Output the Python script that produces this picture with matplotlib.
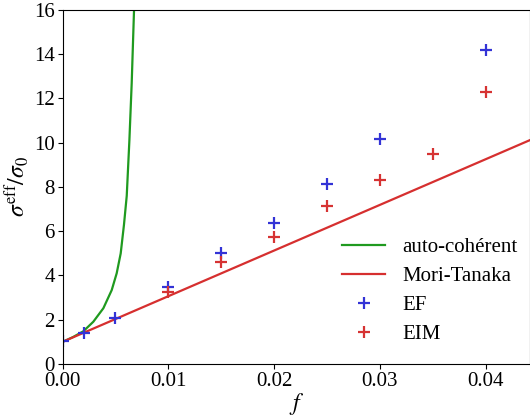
import numpy as np
from matplotlib import pyplot as plt

plt.rcParams['font.family'] = ['Liberation Serif', 'DejaVu Serif']
plt.rcParams['mathtext.fontset'] = 'stix'
plt.rcParams['font.size'] = 15

# auto-coherent estimate
f_ac = [0.0, 0.001, 0.00197, 0.00291, 0.00386, 0.00465, 0.00512, 0.0055,
        0.00581, 0.00607, 0.00632, 0.00654, 0.00669, 0.00676]
s_ac = [1.0, 1.22, 1.48, 1.91, 2.52, 3.34, 4.1, 5.0,
        6.3, 7.6, 10.1, 12.7, 14.95, 16.0]

# Mori-Tanaka (straight line)
f_mt = [0.0, 0.0442]
s_mt = [1.0, 10.12]

# finite elements
f_ef = [0.0, 0.002, 0.005, 0.01, 0.015, 0.02, 0.025, 0.03, 0.04]
s_ef = [1.02, 1.38, 2.09, 3.49, 5.02, 6.39, 8.12, 10.17, 14.19]

# EIM
f_eim = [0.01, 0.015, 0.02, 0.025, 0.03, 0.035, 0.04]
s_eim = [3.27, 4.6, 5.75, 7.16, 8.32, 9.49, 12.28]

fig = plt.figure(figsize=(5.3, 4.16), dpi=100)
ax = fig.add_axes([0.118, 0.125, 0.882, 0.851])

ax.plot(f_ac, s_ac, color='#1f9a1f', lw=1.6, label='auto-cohérent')
ax.plot(f_mt, s_mt, color='#d62f2f', lw=1.6, label='Mori-Tanaka')
ax.plot(f_ef, s_ef, '+', color='#3333d6', ms=9, mew=1.6, label='EF')
ax.plot(f_eim, s_eim, '+', color='#d63333', ms=9, mew=1.6, label='EIM')

ax.set_xlim(0, 0.0442)
ax.set_ylim(0, 16)
ax.set_xticks([0.0, 0.01, 0.02, 0.03, 0.04])
ax.set_yticks(np.arange(0, 17, 2))
ax.tick_params(labelsize=15, pad=2)
ax.set_xlabel('$f$', fontsize=17, labelpad=0)
ax.set_ylabel(r'$\sigma^{\rm eff}/\sigma_0$', fontsize=17, labelpad=2)

ax.legend(loc='lower right', frameon=False, fontsize=15,
          bbox_to_anchor=(1.013, 0.003), handlelength=2.1, labelspacing=0.45)

fig.savefig('out.png', dpi=100)
